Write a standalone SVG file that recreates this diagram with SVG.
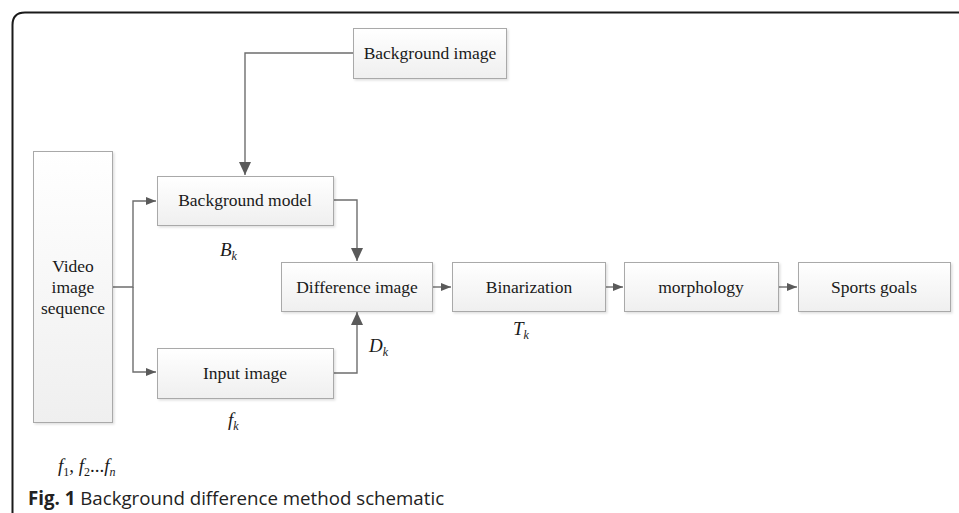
<svg xmlns="http://www.w3.org/2000/svg" width="959" height="513" viewBox="0 0 959 513">
  <defs>
    <linearGradient id="boxFill" x1="0" y1="0" x2="0" y2="1">
      <stop offset="0" stop-color="#ffffff"/>
      <stop offset="1" stop-color="#efefef"/>
    </linearGradient>
    <filter id="shadow" x="-5%" y="-5%" width="112%" height="120%">
      <feDropShadow dx="1.5" dy="1.5" stdDeviation="1" flood-color="#000" flood-opacity="0.12"/>
    </filter>
    <marker id="arrowL" markerUnits="userSpaceOnUse" markerWidth="14" markerHeight="12" refX="13" refY="6" orient="auto">
      <path d="M0,0 L13,6 L0,12 Z" fill="#5a5a5a"/>
    </marker>
    <marker id="arrowS" markerUnits="userSpaceOnUse" markerWidth="11" markerHeight="10" refX="10" refY="5" orient="auto">
      <path d="M0,1 L10,5 L0,9 Z" fill="#5a5a5a"/>
    </marker>
  </defs>
  <style>
    .box { fill: url(#boxFill); stroke: #a9a9a9; stroke-width: 1; filter: url(#shadow); }
    .node-text { font-family: "Liberation Serif", serif; font-size: 17.5px; fill: #1a1a1a; text-anchor: middle; }
    .math { font-family: "Liberation Serif", serif; font-style: italic; font-size: 19px; fill: #1a1a1a; }
    .sub { font-size: 12px; }
    .wire { fill: none; stroke: #6e6e6e; stroke-width: 1.4; }
    .caption { font-family: "Open Sans", "Liberation Sans", sans-serif; font-size: 18.7px; fill: #222; }
  </style>

  <rect width="959" height="513" fill="#ffffff"/>

  <!-- outer frame -->
  <path d="M12.5,513 L12.5,25 Q12.5,12.5 25,12.5 L959,12.5" fill="none" stroke="#1a1a1a" stroke-width="2"/>

  <!-- connectors -->
  <g id="connectors">
    <path class="wire" d="M353,53 H245 V175" marker-end="url(#arrowL)"/>
    <path class="wire" d="M113,287 H133 V201 H156" marker-end="url(#arrowS)"/>
    <path class="wire" d="M133,287 V372 H156" marker-end="url(#arrowS)"/>
    <path class="wire" d="M333,200 H357 V261" marker-end="url(#arrowL)"/>
    <path class="wire" d="M333,373 H357 V312" marker-end="url(#arrowL)"/>
    <path class="wire" d="M433,287 H451" marker-end="url(#arrowS)"/>
    <path class="wire" d="M605,287 H623" marker-end="url(#arrowS)"/>
    <path class="wire" d="M779,287 H797" marker-end="url(#arrowS)"/>
  </g>

  <g id="background-image">
    <rect class="box" x="353.5" y="28.5" width="153" height="50"/>
    <text class="node-text" x="430" y="59">Background image</text>
  </g>

  <g id="video-sequence">
    <rect class="box" x="33.5" y="151.5" width="79" height="271"/>
    <text class="node-text" x="73" y="272">Video</text>
    <text class="node-text" x="73" y="293">image</text>
    <text class="node-text" x="73" y="314">sequence</text>
  </g>

  <g id="background-model">
    <rect class="box" x="157.5" y="176.5" width="176" height="49"/>
    <text class="node-text" x="245" y="206">Background model</text>
  </g>

  <g id="input-image">
    <rect class="box" x="157.5" y="348.5" width="176" height="50"/>
    <text class="node-text" x="245" y="379">Input image</text>
  </g>

  <g id="difference-image">
    <rect class="box" x="281.5" y="262.5" width="151" height="49"/>
    <text class="node-text" x="357" y="293">Difference image</text>
  </g>

  <g id="binarization">
    <rect class="box" x="452.5" y="262.5" width="153" height="49"/>
    <text class="node-text" x="529" y="293">Binarization</text>
  </g>

  <g id="morphology">
    <rect class="box" x="624.5" y="262.5" width="154" height="49"/>
    <text class="node-text" x="701" y="293">morphology</text>
  </g>

  <g id="sports-goals">
    <rect class="box" x="798.5" y="262.5" width="152" height="49"/>
    <text class="node-text" x="874" y="293">Sports goals</text>
  </g>

  <!-- symbols -->
  <text class="math" x="220" y="256">B<tspan class="sub" dy="4">k</tspan></text>
  <text class="math" x="228" y="426">f<tspan class="sub" dy="4">k</tspan></text>
  <text class="math" x="369" y="352">D<tspan class="sub" dy="4">k</tspan></text>
  <text class="math" x="513" y="335">T<tspan class="sub" dy="4">k</tspan></text>
  <text class="math" x="58" y="472">f<tspan class="sub" font-style="normal" dy="4">1</tspan><tspan font-style="normal" dy="-4">, </tspan>f<tspan class="sub" font-style="normal" dy="4">2</tspan><tspan font-style="normal" dy="-4">...</tspan>f<tspan class="sub" dy="4">n</tspan></text>

  <text class="caption" x="28" y="505"><tspan font-weight="bold">Fig. 1</tspan> Background difference method schematic</text>
</svg>
